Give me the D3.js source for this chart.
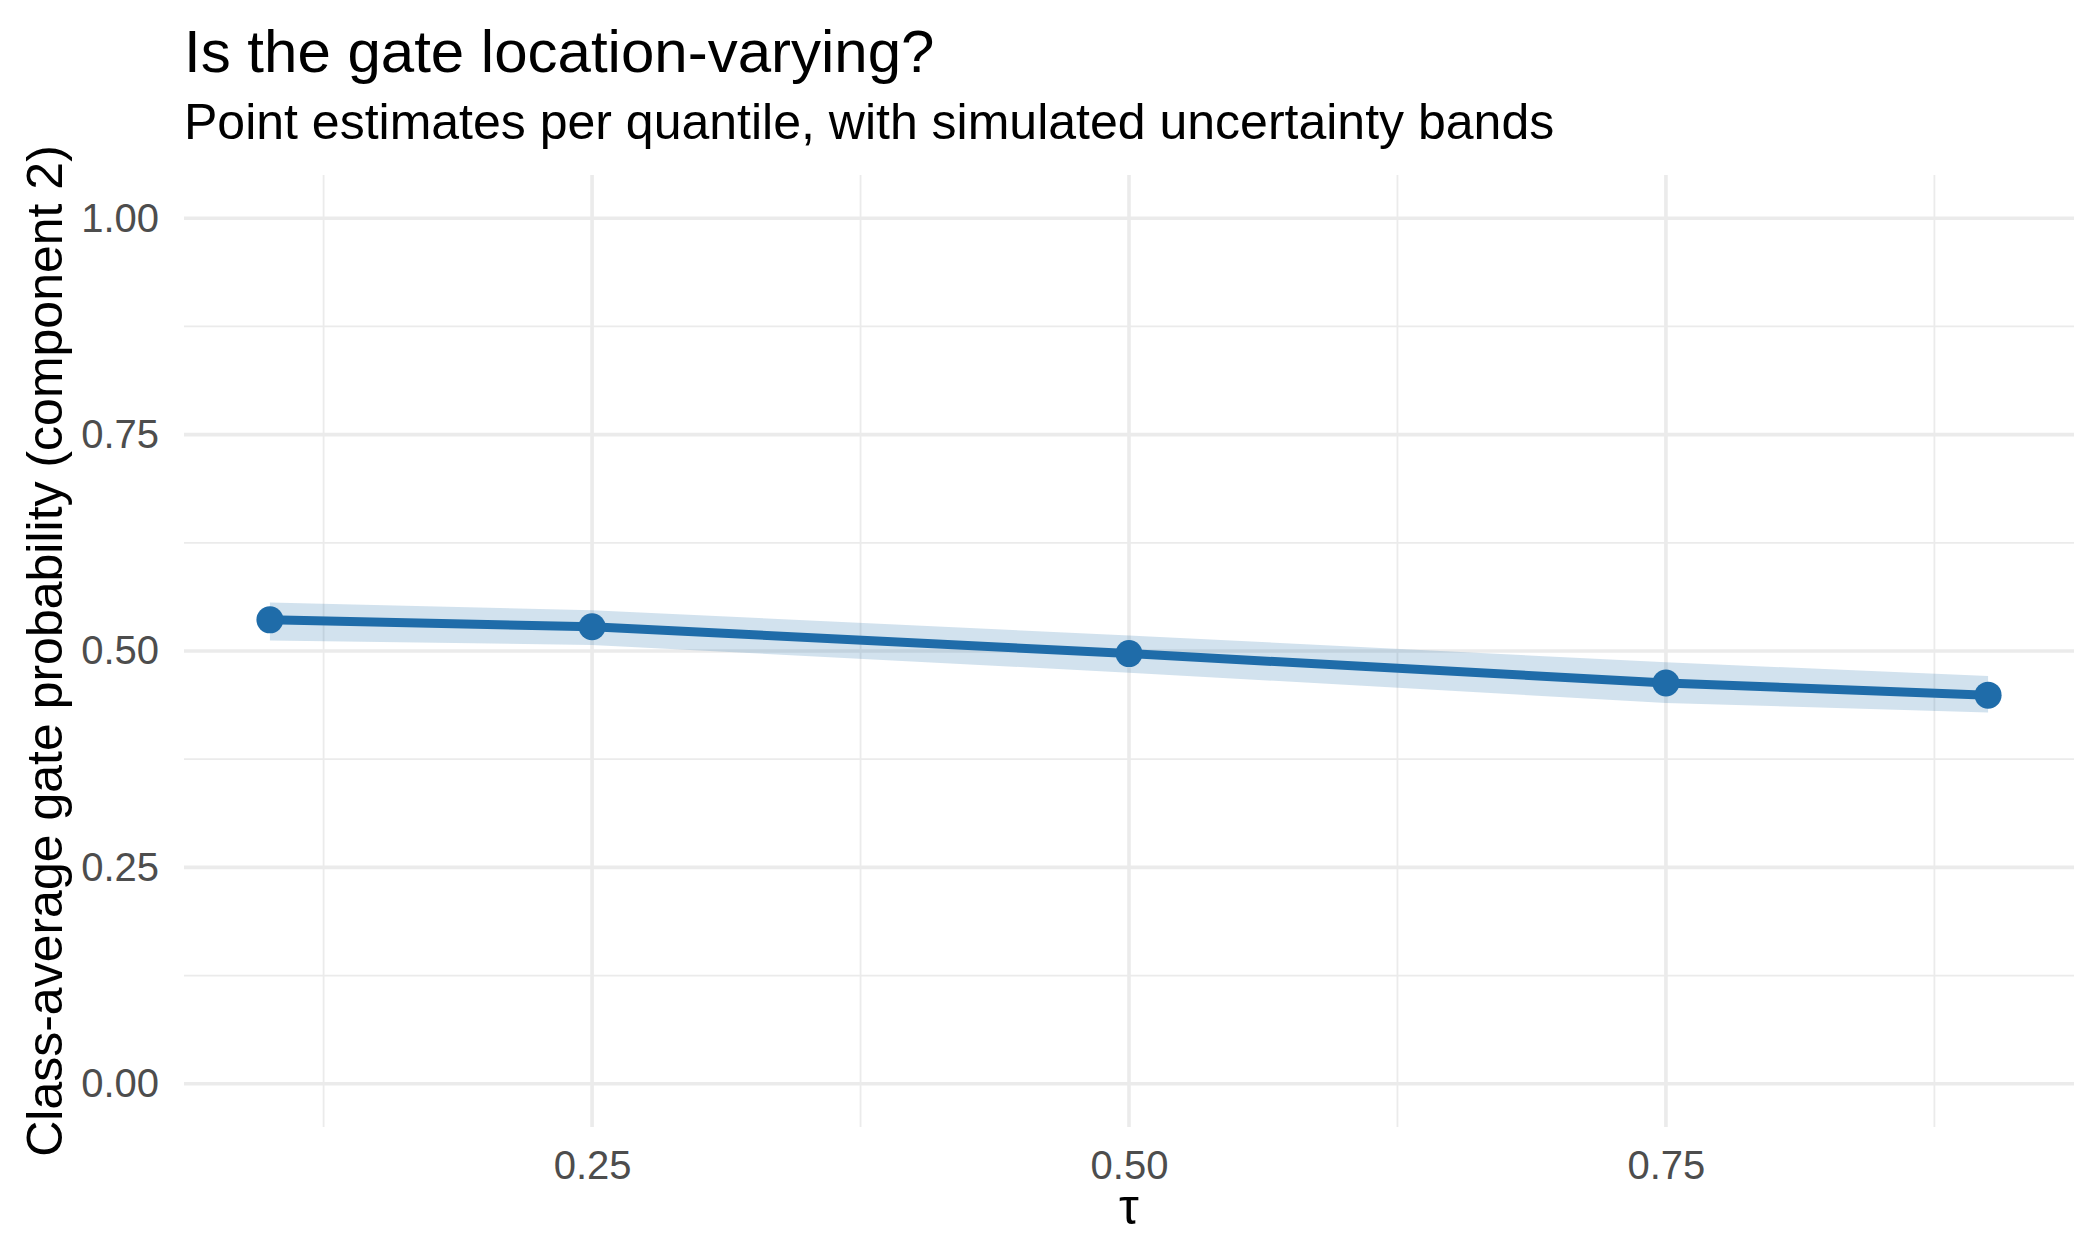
<!DOCTYPE html>
<html>
<head>
<meta charset="utf-8">
<script src="https://cdn.jsdelivr.net/npm/d3@7"></script>
<style>
  html, body { margin: 0; padding: 0; background: #fff; }
  text { font-family: "Liberation Sans", Arial, sans-serif; }
</style>
</head>
<body>
<div id="chart"></div>
<script>
// quantile levels and class-average gate probability (component 2)
const tau = [0.10, 0.25, 0.50, 0.75, 0.90];
const estimate = [0.536, 0.528, 0.497, 0.463, 0.449];
const lower = [0.512, 0.507, 0.475, 0.440, 0.429];
const upper = [0.556, 0.547, 0.518, 0.487, 0.471];

const xTicks = [0.25, 0.50, 0.75];
const xMinor = [0.125, 0.375, 0.625, 0.875];
const yTicks = [0.00, 0.25, 0.50, 0.75, 1.00];
const yMinor = [0.125, 0.375, 0.625, 0.875];

const titleText = "Is the gate location-varying?";
const subtitleText = "Point estimates per quantile, with simulated uncertainty bands";
const xTitle = "τ";
const yTitle = "Class-average gate probability (component 2)";

const width = 2100, height = 1260;
const panel = { left: 184, right: 2074, top: 175, bottom: 1127 };
const lineColor = "#1f6ca9";
const gridColor = "#ebebeb";

const svg = d3.select("#chart").append("svg")
    .attr("width", width)
    .attr("height", height);

// ggplot-style 5% expansion around the data range
const x = d3.scaleLinear().domain([0.06, 0.94]).range([panel.left, panel.right]);
const y = d3.scaleLinear().domain([-0.05, 1.05]).range([panel.bottom, panel.top]);

// Grid: minor first, then major
const grid = svg.append("g");
function hLines(vals, w) {
    grid.append("g").selectAll("line").data(vals).join("line")
        .attr("x1", panel.left).attr("x2", panel.right)
        .attr("y1", d => y(d)).attr("y2", d => y(d))
        .style("stroke", gridColor).style("stroke-width", w);
}
function vLines(vals, w) {
    grid.append("g").selectAll("line").data(vals).join("line")
        .attr("y1", panel.top).attr("y2", panel.bottom)
        .attr("x1", d => x(d)).attr("x2", d => x(d))
        .style("stroke", gridColor).style("stroke-width", w);
}
hLines(yMinor, "1.8px");
vLines(xMinor, "1.8px");
hLines(yTicks, "3.6px");
vLines(xTicks, "3.6px");

// Uncertainty band
const rows = tau.map((t, i) => ({ t, est: estimate[i], lo: lower[i], hi: upper[i] }));

svg.append("path")
    .datum(rows)
    .attr("d", d3.area().x(d => x(d.t)).y0(d => y(d.lo)).y1(d => y(d.hi)))
    .style("fill", lineColor)
    .style("fill-opacity", 0.2);

// Estimate line and points
svg.append("path")
    .datum(rows)
    .attr("d", d3.line().x(d => x(d.t)).y(d => y(d.est)))
    .style("fill", "none")
    .style("stroke", lineColor)
    .style("stroke-width", "9px");

svg.selectAll(".pt").data(rows).join("circle")
    .attr("cx", d => x(d.t))
    .attr("cy", d => y(d.est))
    .attr("r", 13.5)
    .style("fill", lineColor);

// Axes (labels only, as in theme_minimal)
const xAxis = svg.append("g")
    .attr("transform", "translate(0, 1179)")
    .call(d3.axisBottom(x).tickValues(xTicks).tickSize(0).tickFormat(d3.format(".2f")));
xAxis.select(".domain").remove();
xAxis.selectAll("text")
    .attr("y", 0)
    .attr("dy", 0)
    .style("font-size", "40px")
    .style("fill", "#4d4d4d");

const yAxis = svg.append("g")
    .attr("transform", `translate(${panel.left - 25}, 0)`)
    .call(d3.axisLeft(y).tickValues(yTicks).tickSize(0).tickFormat(d3.format(".2f")));
yAxis.select(".domain").remove();
yAxis.selectAll("text")
    .attr("x", 0)
    .style("font-size", "40px")
    .style("fill", "#4d4d4d");

// Titles
svg.append("text")
    .attr("x", panel.left).attr("y", 72)
    .style("font-size", "60px")
    .style("fill", "#000")
    .text(titleText);

svg.append("text")
    .attr("x", panel.left).attr("y", 139)
    .style("font-size", "50px")
    .style("fill", "#000")
    .text(subtitleText);

svg.append("text")
    .attr("x", (panel.left + panel.right) / 2).attr("y", 1224)
    .attr("text-anchor", "middle")
    .style("font-size", "50px")
    .style("fill", "#000")
    .text(xTitle);

svg.append("text")
    .attr("transform", `translate(62, ${(panel.top + panel.bottom) / 2}) rotate(-90)`)
    .attr("text-anchor", "middle")
    .style("font-size", "50px")
    .style("fill", "#000")
    .text(yTitle);
</script>
</body>
</html>
